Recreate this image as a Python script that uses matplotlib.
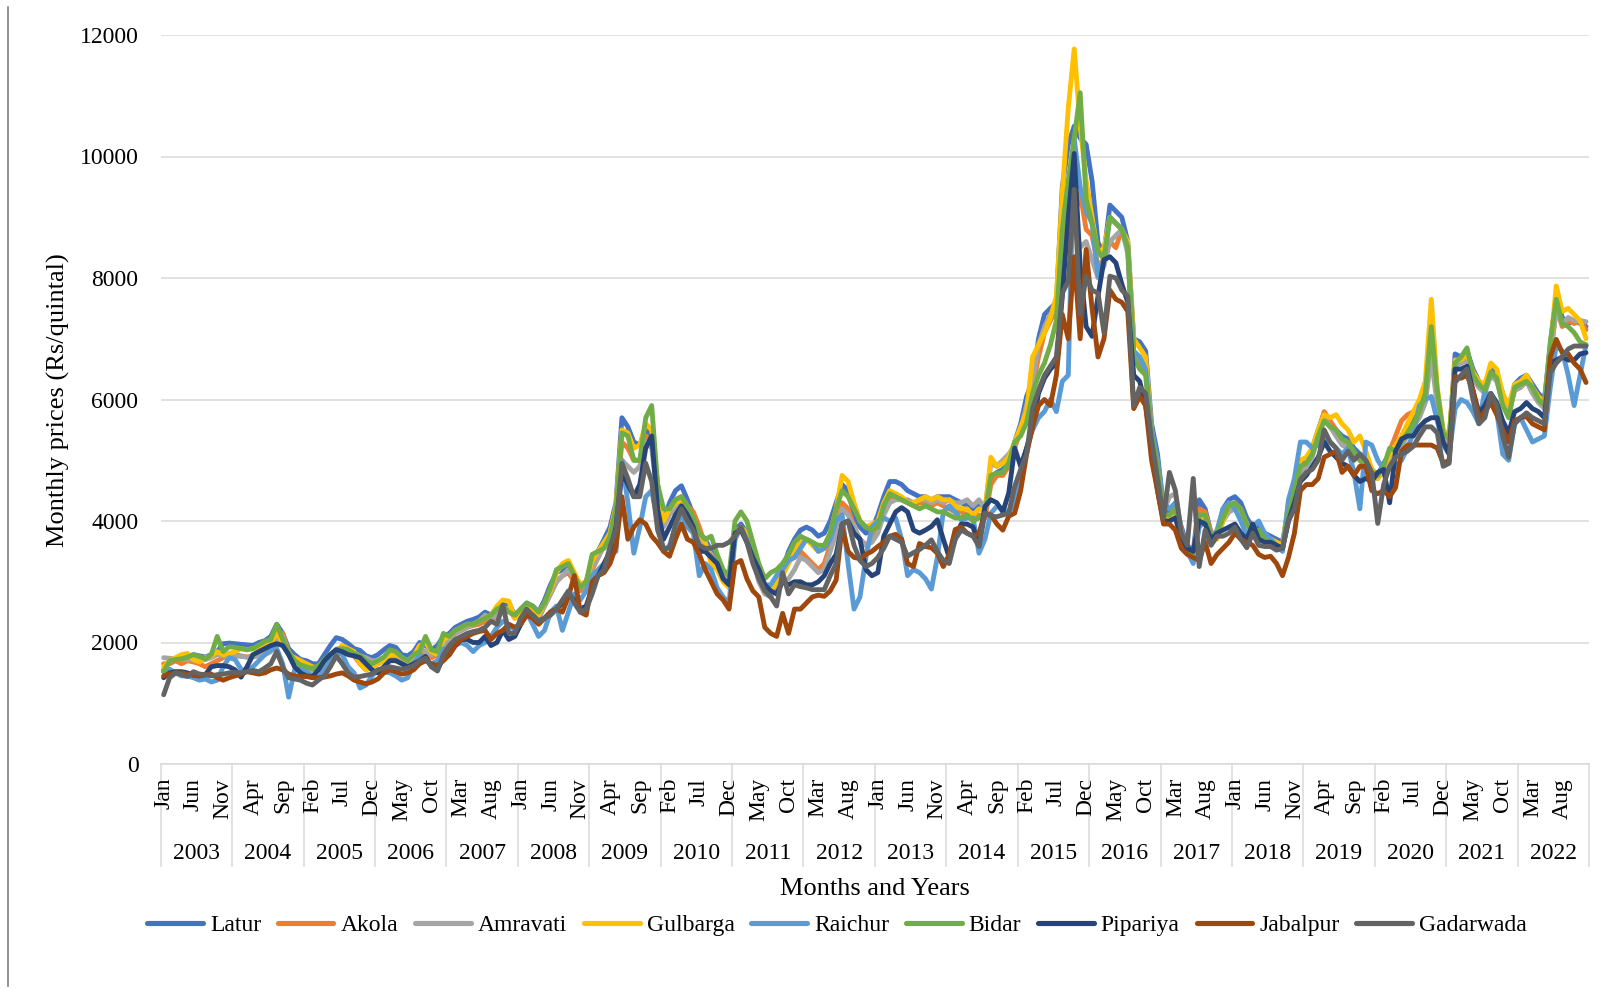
import numpy as np
import matplotlib.pyplot as plt
from matplotlib.lines import Line2D
import matplotlib.transforms as mtransforms

plt.rcParams.update({
    'font.family': 'Liberation Serif',
    'font.size': 17,
})

years = list(range(2003, 2023))
month_names = ['Jan', 'Feb', 'Mar', 'Apr', 'May', 'Jun',
               'Jul', 'Aug', 'Sep', 'Oct', 'Nov', 'Dec']

# monthly prices (Rs/quintal), Jan 2003 .. Dec 2022, one row per year
latur = [
    1550, 1700, 1720, 1740, 1760, 1800, 1780, 1760, 1800, 1850, 1980, 1990,
    1980, 1970, 1960, 1950, 2000, 2030, 2100, 2300, 2150, 1900, 1800, 1720,
    1700, 1650, 1650, 1800, 1950, 2080, 2050, 1980, 1900, 1870, 1780, 1750,
    1800, 1880, 1950, 1920, 1800, 1780, 1850, 2000, 1950, 1880, 1950, 2100,
    2150, 2250, 2300, 2350, 2380, 2420, 2500, 2450, 2550, 2600, 2650, 2450,
    2550, 2650, 2600, 2500, 2700, 2950, 3150, 3200, 3250, 3100, 2950, 3000,
    3300, 3500, 3700, 3900, 4300, 5700, 5550, 5300, 5250, 5500, 5400, 4600,
    4000, 4300, 4500, 4580, 4350, 4100, 3800, 3700, 3500, 3300, 3100, 3000,
    3850, 3950, 3800, 3500, 3200, 2950, 2900, 3100, 3200, 3500, 3700, 3850,
    3900, 3850, 3750, 3800, 4000, 4300, 4600, 4500, 4100, 3900, 3800, 3850,
    4100, 4400, 4650, 4650, 4600, 4500, 4450, 4400, 4400, 4350, 4400, 4400,
    4400, 4350, 4300, 4250, 4200, 4250, 4150, 4700, 4800, 4850, 4950, 5300,
    5600, 6050, 6300, 7000, 7400, 7500, 7600, 9500, 10200, 10500, 10300, 10200,
    9600, 8580, 8400, 9200, 9100, 9000, 8600, 7000, 6950, 6800, 5600, 5100,
    4200, 4100, 4300, 3900, 3600, 3500, 4350, 4200, 3800, 3800, 4200, 4350,
    4400, 4300, 4050, 3900, 3900, 3800, 3750, 3700, 3650, 4200, 4500, 4900,
    5000, 5200, 5500, 5780, 5600, 5500, 5400, 5350, 5200, 5100, 5000, 4850,
    4750, 4950, 5100, 5150, 5300, 5500, 5650, 5800, 6000, 6800, 6000, 5400,
    5300, 6750, 6700, 6800, 6500, 6300, 6200, 6550, 6400, 6100, 5750, 6250,
    6350, 6400, 6250, 6100, 6000, 6900, 7700, 7350, 7250, 7300, 7250, 7200,
]
akola = [
    1650, 1650, 1700, 1650, 1700, 1680, 1650, 1600, 1650, 1700, 1750, 1800,
    1800, 1780, 1760, 1780, 1800, 1850, 1900, 2050, 2150, 1850, 1700, 1650,
    1620, 1580, 1600, 1700, 1800, 1850, 1880, 1850, 1780, 1650, 1550, 1600,
    1650, 1700, 1780, 1750, 1650, 1600, 1720, 1850, 1800, 1750, 1800, 1950,
    2050, 2150, 2200, 2250, 2280, 2300, 2350, 2350, 2450, 2500, 2550, 2400,
    2450, 2550, 2500, 2400, 2600, 2800, 3000, 3100, 3150, 3000, 2850, 2900,
    3200, 3400, 3600, 3800, 4200, 5300, 5200, 5000, 5000, 5400, 5300, 4500,
    3950, 4200, 4350, 4400, 4250, 4150, 3900, 3600, 3450, 3300, 3100, 3000,
    3800, 3900, 3700, 3400, 3100, 2900, 2850, 3000, 3200, 3350, 3400, 3500,
    3400, 3300, 3200, 3300, 3600, 3900, 4300, 4200, 3900, 3700, 3600, 3700,
    3900, 4200, 4400, 4400, 4350, 4300, 4250, 4300, 4300, 4250, 4300, 4250,
    4200, 4150, 4150, 4100, 4050, 4100, 4050, 4600, 4750, 4750, 4900, 5200,
    5500, 5900, 6200, 6700, 7100, 7300, 7500, 8600, 9300, 9000, 9400, 8800,
    8700, 8200, 8300, 8600, 8500, 8800, 8500, 6600, 6600, 6500, 5300, 4800,
    4100, 4000, 4150, 3800, 3550, 3450, 4200, 4150, 3800, 3750, 4100, 4250,
    4300, 4200, 3950, 3800, 3800, 3750, 3700, 3650, 3600, 4100, 4500, 4900,
    4950, 5100, 5450, 5800, 5650, 5500, 5300, 5200, 5100, 5000, 4900, 4800,
    4700, 4850, 5150, 5400, 5650, 5750, 5800, 5900, 6050, 6900, 6000, 5400,
    5250, 6600, 6600, 6700, 6350, 6200, 6150, 6450, 6350, 6000, 5750, 6150,
    6200, 6300, 6150, 6000, 5900, 6700, 7500, 7200, 7300, 7250, 7300, 7150,
]
amravati = [
    1750, 1740, 1730, 1720, 1720, 1710, 1700, 1720, 1750, 1800, 1780, 1780,
    1780, 1770, 1760, 1760, 1780, 1800, 1850, 2000, 2100, 1800, 1700, 1650,
    1600, 1550, 1550, 1650, 1750, 1800, 1850, 1850, 1800, 1780, 1750, 1700,
    1700, 1750, 1800, 1780, 1700, 1680, 1750, 1900, 1850, 1800, 1850, 1950,
    2050, 2150, 2200, 2250, 2300, 2350, 2450, 2400, 2450, 2500, 2550, 2450,
    2500, 2550, 2500, 2400, 2600, 2800, 3000, 3100, 3200, 3050, 2900, 2950,
    3250, 3400, 3600, 3800, 4150, 5000, 4900, 4800, 4900, 5300, 5200, 4400,
    3900, 4100, 4200, 4300, 4150, 4000, 3750, 3600, 3450, 3250, 3100, 3050,
    3800, 3900, 3700, 3400, 3000, 2800, 2750, 2900, 3000, 3050, 3200, 3400,
    3350, 3250, 3150, 3200, 3500, 3800, 4200, 4100, 3900, 3700, 3600, 3650,
    3800, 4100, 4300, 4350, 4350, 4350, 4300, 4350, 4350, 4300, 4350, 4300,
    4350, 4300, 4300, 4350, 4250, 4350, 4200, 4950, 4900, 5000, 5100, 5250,
    5500, 5900, 6300, 6900, 7200, 7400, 7500, 8200, 8700, 8900, 8500, 8600,
    8300, 8000, 8200, 8600, 8700, 8800, 8400, 6600, 6700, 6500, 5400, 4900,
    4150, 4400, 4450, 3850, 3500, 3450, 3900, 4050, 3750, 3750, 4000, 4150,
    4200, 4100, 3900, 3800, 3800, 3700, 3650, 3600, 3550, 4050, 4400, 4800,
    4900, 5050, 5400, 5700, 5550, 5400, 5250, 5200, 5100, 5050, 4950, 4850,
    4750, 4900, 5000, 5100, 5250, 5400, 5550, 5700, 5950, 6700, 5900, 5350,
    5200, 6550, 6600, 6650, 6350, 6200, 6100, 6400, 6300, 5950, 5800, 6150,
    6200, 6300, 6100, 5950, 5850, 6750, 7450, 7250, 7350, 7300, 7300, 7280,
]
gulbarga = [
    1600, 1700, 1750, 1800, 1820, 1720, 1680, 1750, 1780, 1850, 1800, 1820,
    1850, 1900, 1880, 1900, 1920, 1950, 2000, 2150, 2000, 1800, 1750, 1700,
    1650, 1600, 1580, 1650, 1750, 1850, 1950, 1900, 1850, 1650, 1550, 1600,
    1650, 1700, 1800, 1800, 1750, 1700, 1780, 1950, 2000, 1850, 1800, 2050,
    2100, 2200, 2250, 2300, 2300, 2350, 2400, 2450, 2600, 2700, 2680, 2400,
    2500, 2600, 2550, 2450, 2650, 2850, 3150, 3300, 3350, 3150, 2950, 3000,
    3350, 3500, 3650, 3800, 4250, 5500, 5450, 5200, 5250, 5600, 5500, 4600,
    4000, 4200, 4300, 4350, 4200, 4000, 3800, 3650, 3300, 3200, 3000, 2900,
    3700, 3900, 3800, 3400, 3100, 2900, 2850, 3000, 3100, 3300, 3500, 3650,
    3700, 3600, 3500, 3550, 3800, 4200, 4750, 4650, 4300, 4000, 3900, 3950,
    4000, 4300, 4500, 4450, 4400, 4300, 4300, 4350, 4400, 4350, 4400, 4350,
    4350, 4250, 4200, 4200, 4100, 4200, 4150, 5050, 4900, 4950, 5050, 5300,
    5550, 5800, 6700, 6900, 7100, 7350, 7700, 9400, 10800, 11770, 10500, 9600,
    9000, 8400, 8500, 9000, 8900, 8800, 8600, 7000, 6850, 6700, 5500, 4900,
    4050, 4000, 4200, 3750, 3500, 3400, 4000, 4100, 3700, 3700, 4000, 4250,
    4250, 4150, 3950, 3800, 3800, 3750, 3700, 3650, 3600, 4300, 4600, 5000,
    5050, 5200, 5500, 5750, 5700, 5750, 5600, 5500, 5300, 5400, 5150, 4850,
    4700, 4850, 5100, 5250, 5400, 5600, 5800, 6000, 6300, 7650, 6200, 5500,
    5400, 6650, 6650, 6750, 6450, 6300, 6250, 6600, 6500, 6100, 5900, 6250,
    6300, 6400, 6200, 6050, 5950, 6850, 7870, 7450, 7500, 7400, 7300, 7000,
]
raichur = [
    1520, 1560, 1500, 1450, 1450, 1420, 1380, 1400, 1350, 1380, 1600, 1750,
    1720, 1560, 1520, 1600, 1700, 1800, 1880, 1900, 1650, 1100, 1550, 1580,
    1520, 1450, 1420, 1550, 1700, 1850, 1800, 1600, 1500, 1250, 1300, 1450,
    1550, 1520, 1500, 1450, 1380, 1420, 1650, 1800, 1700, 1650, 1700, 1900,
    1850, 1950, 2000, 1950, 1850, 1950, 2000, 2100, 2250, 2350, 2300, 2200,
    2350, 2500, 2300, 2100, 2200, 2500, 2600, 2200, 2500, 2800, 2700, 2850,
    3100, 3200, 3300, 3450, 3500, 5000, 4300, 3470, 3900, 4400, 4500, 4000,
    3500, 3600, 3900, 4100, 3900, 3800, 3100, 3300, 3200, 2900, 2750, 2650,
    3700, 3900, 3700, 3400, 3050, 2950, 2950, 3100, 3200, 3350, 3400, 3550,
    3700, 3650, 3500, 3550, 3700, 4000, 4100, 3300, 2550, 2750, 3400, 3900,
    4000, 4050, 4000, 4050, 3700, 3100, 3200, 3150, 3050, 2880, 3400, 4150,
    4250, 4150, 4020, 4050, 4050, 3470, 3700, 4130, 4240, 4200, 4130, 4300,
    4800, 5200, 5500, 5700, 5800, 6000, 5800, 6300, 6400, 10300, 9500, 9100,
    8900, 8030, 8300, 9000, 8900, 8800, 8500, 6800, 6700, 6500, 5500, 5000,
    4300, 4200, 4300, 3700, 3500, 3300, 3900, 4000, 3700, 3850, 4200, 4300,
    4200, 4000, 3750, 3900, 4000, 3800, 3700, 3600, 3500, 4350, 4700, 5300,
    5300, 5200, 5250, 5400, 5300, 5200, 5100, 5200, 4800, 4200, 5300, 5250,
    5000, 4850, 4850, 4900, 5000, 5200, 5450, 5900, 6000, 6050, 5650, 5250,
    5100, 5850, 6000, 5950, 5800, 5600, 6150, 6000, 5800, 5100, 5000, 5600,
    5700, 5500, 5300, 5350, 5400, 6200, 6900, 6800, 6400, 5900, 6400, 6900,
]
bidar = [
    1520, 1700, 1720, 1730, 1760, 1800, 1770, 1730, 1800, 2100, 1850, 1930,
    1920, 1900, 1880, 1900, 1960, 2020, 2050, 2300, 2050, 1850, 1700, 1630,
    1600, 1570, 1620, 1720, 1800, 1890, 1900, 1880, 1820, 1780, 1700, 1650,
    1700, 1760, 1880, 1850, 1760, 1700, 1800, 1850, 2100, 1880, 1850, 2150,
    2100, 2200, 2250, 2300, 2300, 2350, 2400, 2450, 2550, 2600, 2500, 2450,
    2550, 2650, 2600, 2500, 2650, 2900, 3200, 3250, 3300, 3100, 2900, 3000,
    3450, 3500, 3550, 3750, 4200, 5450, 5400, 5000, 5000, 5700, 5900, 4600,
    4200, 4200, 4350, 4400, 4250, 4050, 3800, 3700, 3750, 3450, 3200, 3100,
    4000, 4150, 4000, 3650, 3300, 3050, 3150, 3200, 3300, 3450, 3650, 3750,
    3700, 3650, 3600, 3600, 3800, 4200, 4500, 4400, 4200, 4000, 3900, 3850,
    3900, 4250, 4450, 4400, 4350, 4300, 4250, 4200, 4250, 4200, 4150, 4150,
    4100, 4050, 4050, 4100, 4000, 4050, 4130, 4750, 4790, 4800, 4950, 5300,
    5400, 5620, 6100, 6400, 6600, 6900, 7300, 8800, 9600, 10300, 11050, 9300,
    8900, 8450, 8300, 9000, 8900, 8800, 8500, 6700, 6500, 6400, 5400, 4900,
    4100, 4100, 4200, 3800, 3550, 3400, 4100, 4100, 3750, 3800, 4050, 4250,
    4300, 4200, 3950, 3800, 3850, 3700, 3650, 3600, 3550, 4100, 4500, 4900,
    4950, 5100, 5400, 5650, 5550, 5500, 5350, 5300, 5150, 5000, 4900, 4800,
    4750, 4900, 5200, 5150, 5300, 5450, 5600, 5800, 6100, 7200, 6150, 5450,
    5350, 6600, 6700, 6850, 6400, 6250, 6150, 6450, 6350, 5900, 5700, 6200,
    6250, 6300, 6200, 6000, 5900, 6950, 7650, 7250, 7200, 7100, 6950, 6900,
]
pipariya = [
    1420, 1500, 1520, 1520, 1500, 1460, 1450, 1470, 1600, 1620, 1620, 1600,
    1550, 1430, 1600, 1800, 1850, 1900, 1950, 1980, 1950, 1800, 1600, 1500,
    1450, 1440, 1550, 1700, 1800, 1880, 1850, 1800, 1780, 1750, 1650, 1550,
    1500, 1600, 1700, 1700, 1650, 1600, 1650, 1700, 1770, 1600, 1550, 1750,
    1800, 1950, 2050, 2050, 2000, 2000, 2100, 1950, 2000, 2200, 2050, 2100,
    2300, 2500, 2450, 2350, 2400, 2500, 2550, 2650, 2800, 2700, 2550, 2600,
    2900, 3100, 3300, 3500, 3900, 4800, 4600, 4400, 4600, 5200, 5400, 4200,
    3700, 3900, 4100, 4250, 4100, 3900, 3500, 3500, 3400, 3300, 3050, 2950,
    3800, 3850, 3650, 3400, 3200, 2950, 2850, 2800, 3000, 2950, 3000, 3000,
    2950, 2950, 3000, 3100, 3300, 3450, 3950, 4000, 3800, 3700, 3200, 3100,
    3150, 3750, 3950, 4150, 4220, 4150, 3850, 3800, 3850, 3910, 4020, 3700,
    3400, 3700, 3950, 3950, 3900, 3600, 4240, 4350, 4300, 4150, 4460, 5200,
    4900, 5200, 5550, 6100, 6350, 6500, 6600, 7700, 9000, 10050, 8200, 7200,
    7040, 7700, 8300, 8350, 8250, 7900, 7600, 6400, 6300, 5900, 5200, 4500,
    4000, 4000, 4050, 3700, 3550, 3500, 4000, 3950, 3700, 3800, 3850, 3900,
    3950, 3800, 3700, 3950, 3700, 3650, 3650, 3600, 3550, 4000, 4300, 4650,
    4750, 4900, 5050, 5300, 5150, 5050, 4950, 4900, 4750, 4650, 4700, 4650,
    4800, 4850, 4300, 5150, 5350, 5400, 5400, 5550, 5650, 5700, 5700, 5300,
    5100, 6500, 6500, 6550, 6150, 5780, 5900, 6100, 5950, 5650, 5450, 5800,
    5850, 5950, 5850, 5800, 5700, 6600, 6650, 6700, 6650, 6650, 6750, 6770,
]
jabalpur = [
    1450, 1480, 1500, 1500, 1480, 1460, 1450, 1470, 1480, 1420, 1380, 1420,
    1450, 1480, 1520, 1500, 1480, 1500, 1550, 1580, 1550, 1480, 1450, 1440,
    1440, 1420, 1420, 1430, 1450, 1480, 1500, 1450, 1380, 1350, 1320, 1350,
    1400, 1500, 1550, 1520, 1480, 1500, 1550, 1650, 1700, 1650, 1620, 1700,
    1800, 1950, 2050, 2100, 2150, 2180, 2200, 2050, 2150, 2200, 2300, 2250,
    2300, 2450, 2400, 2300, 2400, 2500, 2550, 2500, 2750, 3100, 2500, 2450,
    3000, 3100, 3150, 3300, 3580, 4400, 3700, 3900, 4020, 3950, 3750, 3640,
    3500, 3420, 3700, 3950, 3700, 3650, 3450, 3200, 3000, 2800, 2700, 2550,
    3300, 3350, 3050, 2850, 2750, 2250, 2150, 2100, 2480, 2150, 2550, 2550,
    2650, 2750, 2780, 2760, 2850, 3030, 3900, 3500, 3400, 3380, 3450, 3500,
    3580, 3650, 3750, 3780, 3700, 3300, 3250, 3630, 3580, 3560, 3470, 3250,
    3450, 3860, 3900, 3800, 3750, 3800, 4130, 4100, 3950, 3850, 4080, 4130,
    4500, 5100, 5550, 5900, 6000, 5900, 6400, 7400, 7000, 8350, 7000, 8470,
    7500, 6700, 7000, 7800, 7650, 7600, 7450, 5850, 6050, 5900, 5000, 4500,
    3950, 3950, 3850, 3550, 3450, 3400, 3350, 3650, 3300, 3450, 3550, 3650,
    3800, 3700, 3650, 3600, 3450, 3400, 3420, 3300, 3100, 3400, 3800, 4500,
    4600, 4600, 4700, 5050, 5100, 5150, 4800, 4900, 4750, 4900, 4900, 4500,
    4450, 4500, 4400, 4550, 5150, 5250, 5250, 5250, 5250, 5250, 5200, 4950,
    5000, 6380, 6350, 6400, 6150, 5700, 5800, 5950, 5750, 5500, 5300, 5650,
    5700, 5720, 5600, 5550, 5500, 6700, 6990, 6770, 6750, 6600, 6500, 6280,
]
gadarwada = [
    1140, 1420, 1500, 1470, 1440, 1520, 1480, 1470, 1450, 1470, 1480, 1500,
    1510, 1500, 1520, 1540, 1520, 1580, 1650, 1850, 1600, 1420, 1400, 1380,
    1330, 1300, 1380, 1450, 1600, 1780, 1650, 1500, 1430, 1440, 1460, 1480,
    1550, 1580, 1600, 1580, 1560, 1580, 1620, 1700, 1740, 1600, 1530, 1800,
    1950, 2050, 2100, 2150, 2180, 2200, 2250, 2350, 2300, 2620, 2150, 2150,
    2400, 2550, 2450, 2350, 2400, 2450, 2550, 2700, 2850, 2650, 2500, 2550,
    2800, 3100, 3200, 3580, 3850, 4950, 4700, 4400, 4400, 4950, 4650, 3850,
    3550, 3550, 3950, 4200, 4000, 3850, 3600, 3550, 3550, 3600, 3600, 3650,
    3750, 3900, 3650, 3300, 3050, 2850, 2750, 2600, 3150, 2800, 2950, 2920,
    2900, 2870, 2870, 2870, 3100, 3300, 3950, 4000, 3600, 3350, 3250, 3300,
    3400, 3550, 3750, 3700, 3650, 3420, 3480, 3530, 3600, 3690, 3500, 3350,
    3300, 3700, 3850, 3800, 3750, 3580, 4130, 4080, 4070, 4100, 4130, 4570,
    4850, 5100, 5850, 6150, 6400, 6550, 6700, 7750, 7950, 9460, 7400, 8030,
    7800, 7750, 7100, 8030, 8000, 7800, 7700, 5900, 6200, 6100, 5340, 4700,
    4050, 4800, 4500, 3800, 3600, 4700, 3250, 3850, 3600, 3750, 3750, 3800,
    3900, 3700, 3560, 3800, 3600, 3580, 3580, 3520, 3550, 4000, 4200, 4680,
    4800, 4850, 5000, 5500, 5300, 5200, 5000, 5150, 5000, 5100, 5000, 4800,
    3960, 4600, 4900, 5050, 5100, 5150, 5230, 5400, 5550, 5550, 5450, 4900,
    4950, 6280, 6400, 6500, 6000, 5600, 5700, 6100, 5900, 5400, 5050, 5600,
    5700, 5780, 5700, 5650, 5600, 6440, 6600, 6700, 6830, 6880, 6880, 6880,
]

series = [
    ('Latur', latur, '#4472C4'),
    ('Akola', akola, '#ED7D31'),
    ('Amravati', amravati, '#A5A5A5'),
    ('Gulbarga', gulbarga, '#FFC000'),
    ('Raichur', raichur, '#5B9BD5'),
    ('Bidar', bidar, '#70AD47'),
    ('Pipariya', pipariya, '#264478'),
    ('Jabalpur', jabalpur, '#9E480E'),
    ('Gadarwada', gadarwada, '#636363'),
]
n = 12 * len(years)
for name, vals, col in series:
    assert len(vals) == n, (name, len(vals))

W, H = 1611, 990
fig = plt.figure(figsize=(W / 100, H / 100), dpi=100)
ax_left, ax_right, ax_top, ax_bot = 160.7, 1589, 35, 764
ax = fig.add_axes([ax_left / W, 1 - ax_bot / H,
                   (ax_right - ax_left) / W, (ax_bot - ax_top) / H])

x = np.arange(n)
handles = []
for name, vals, col in series:
    ln, = ax.plot(x, vals, color=col, lw=3.5, label=name,
                  solid_joinstyle='round', solid_capstyle='round')
    handles.append(ln)

ax.set_xlim(-0.5, n - 0.5)
ax.set_ylim(0, 12000)
ax.set_yticks(range(0, 12001, 2000))
ax.grid(axis='y', color='#D9D9D9', lw=1.1)
ax.set_axisbelow(True)
for s in ['top', 'right', 'left']:
    ax.spines[s].set_visible(False)
ax.spines['bottom'].set_color('#D9D9D9')
ax.spines['bottom'].set_linewidth(1.1)
ax.tick_params(axis='y', length=0, pad=16, labelsize=17)

# month labels every 5 months
ticks = list(range(0, n, 5))
ax.set_xticks(ticks)
ax.set_xticklabels([month_names[t % 12] for t in ticks], rotation=90,
                   va='top', ha='center')
ax.tick_params(axis='x', length=0, pad=10, labelsize=17)

# year level of the category axis
blend = mtransforms.blended_transform_factory(ax.transData, ax.transAxes)
ax_h = ax_bot - ax_top
sep_len = 102 / ax_h
for i, yr in enumerate(years):
    ax.annotate(str(yr), xy=(12 * i + 5.5, 0), xycoords=blend,
                xytext=(0, -(853.5 - ax_bot) * 0.72), textcoords='offset points',
                ha='center', va='center', fontsize=17)
for b in range(0, n + 1, 12):
    ax.plot([b - 0.5, b - 0.5], [0, -sep_len], transform=blend,
            color='#D9D9D9', lw=1.1, clip_on=False, zorder=0.5)

fig.text(875 / W, 1 - 889 / H, 'Months and Years', ha='center', va='center',
         fontsize=19)
fig.text(58.5 / W, 1 - 400 / H, 'Monthly prices (Rs/quintal)', rotation=90,
         ha='center', va='center', fontsize=19)

leg = fig.legend(handles=handles, loc='center',
                 bbox_to_anchor=(837 / W, 1 - 925 / H),
                 ncol=9, frameon=False, handlelength=2.35, handletextpad=0.3,
                 columnspacing=0.72, fontsize=17)
for h in leg.legend_handles:
    h.set_linewidth(3.7)

# left border of the original page
fig.add_artist(Line2D([7.5 / W, 7.5 / W], [1 - 7 / H, 1 - 986 / H],
                      color='#7F7F7F', lw=1.2))

fig.savefig('out.png', dpi=100)
